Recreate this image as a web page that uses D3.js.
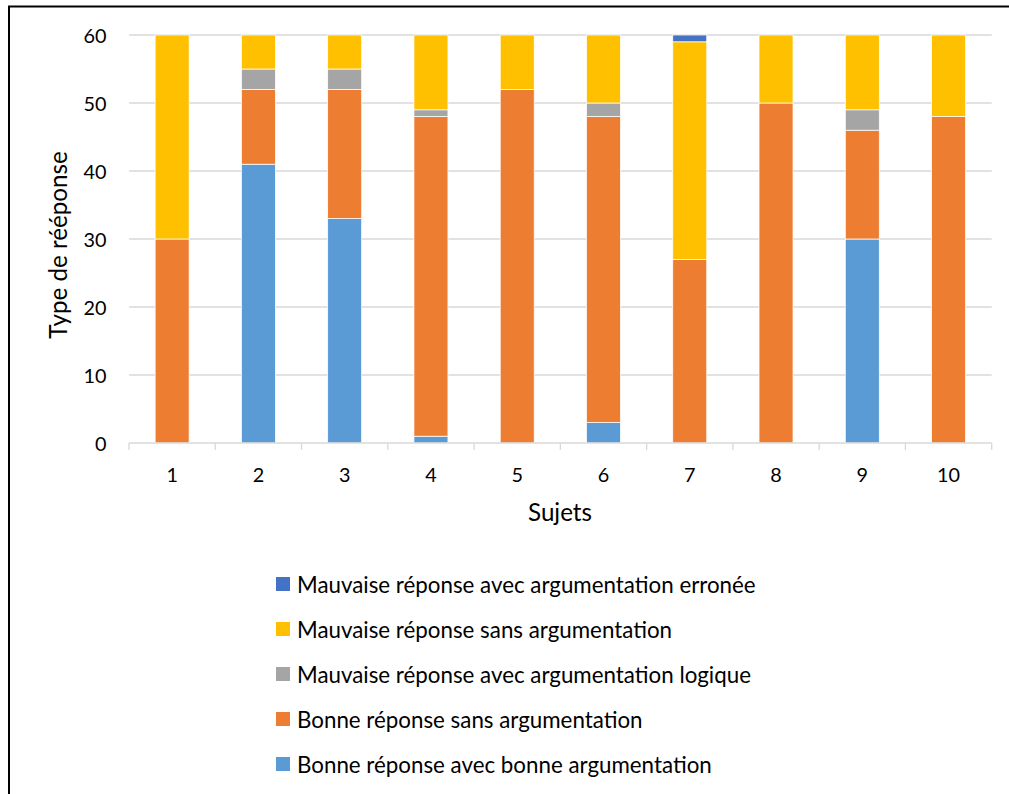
<!DOCTYPE html>
<html>
<head>
<meta charset="utf-8">
<script src="https://cdn.jsdelivr.net/npm/d3@7"></script>
<style>
  html, body { margin: 0; padding: 0; background: #fff; }
  svg { display: block; font-family: Lato, "Open Sans", sans-serif; }
</style>
</head>
<body>
<svg id="chart" width="1009" height="794"></svg>
<script>
// ---- data ----
const subjects = ["1", "2", "3", "4", "5", "6", "7", "8", "9", "10"];
const bonneAvecBonne   = [0, 41, 33, 1, 0, 3, 0, 0, 30, 0];
const bonneSans        = [30, 11, 19, 47, 52, 45, 27, 50, 16, 48];
const mauvaiseLogique  = [0, 3, 3, 1, 0, 2, 0, 0, 3, 0];
const mauvaiseSans     = [30, 5, 5, 11, 8, 10, 32, 10, 11, 12];
const mauvaiseErronee  = [0, 0, 0, 0, 0, 0, 1, 0, 0, 0];
const seriesNames = [
  "Bonne réponse avec bonne argumentation",
  "Bonne réponse sans argumentation",
  "Mauvaise réponse avec argumentation logique",
  "Mauvaise réponse sans argumentation",
  "Mauvaise réponse avec argumentation erronée"
];
const seriesColors = ["#5B9BD5", "#ED7D31", "#A5A5A5", "#FFC000", "#4472C4"];
const yTicks = [0, 10, 20, 30, 40, 50, 60];
const yTitle = "Type de rééponse";
const xTitle = "Sujets";

// ---- build table ----
const seriesValues = [bonneAvecBonne, bonneSans, mauvaiseLogique, mauvaiseSans, mauvaiseErronee];
const keys = seriesNames;
const table = subjects.map((s, i) => {
  const row = { subject: s };
  keys.forEach((k, j) => row[k] = seriesValues[j][i]);
  return row;
});
const stacked = d3.stack().keys(keys)(table);

const svg = d3.select("#chart");

// outer frame
svg.append("rect")
  .attr("x", 9).attr("y", 6.5).attr("width", 1200).attr("height", 1000)
  .attr("fill", "none").attr("stroke", "#000").attr("stroke-width", 2);

const plot = { left: 129, right: 991.7, top: 35, bottom: 443 };
const band = 1 - 34 / ((plot.right - plot.left) / subjects.length);
const x = d3.scaleBand().domain(subjects).range([plot.left, plot.right])
  .paddingInner(band).paddingOuter(band / 2);
const y = d3.scaleLinear().domain([0, 60]).range([plot.bottom, plot.top]);

// fit a font-size so that a sample string has a target width
function fitSize(sample, target) {
  const t = svg.append("text").attr("font-size", 100).text(sample);
  const w = t.node().getComputedTextLength();
  t.remove();
  return 100 * target / w;
}
const tickSize = fitSize("60", 23);
const titleSize = fitSize(xTitle, 64);
const legendSize = fitSize(seriesNames[4], 459);

// gridlines
svg.append("g").selectAll("line").data(yTicks.filter(d => d > 0)).join("line")
  .attr("x1", plot.left).attr("x2", plot.right)
  .attr("y1", d => y(d)).attr("y2", d => y(d))
  .attr("stroke", "#d9d9d9").attr("stroke-width", 1.3);

// y tick labels
svg.append("g").selectAll("text").data(yTicks).join("text")
  .attr("x", 106.5).attr("y", d => y(d))
  .attr("text-anchor", "end").attr("dominant-baseline", "central")
  .attr("font-size", tickSize).attr("fill", "#000")
  .text(d => d);

// bars
svg.append("g").selectAll("g").data(stacked).join("g")
  .attr("fill", (d, i) => seriesColors[i])
  .selectAll("rect").data(d => d).join("rect")
  .attr("x", d => x(d.data.subject))
  .attr("width", x.bandwidth())
  .attr("y", d => y(d[1]))
  .attr("height", d => y(d[0]) - y(d[1]))
  .attr("stroke", "#fff").attr("stroke-width", 0.75)
  .attr("display", d => (d[1] - d[0]) > 0 ? null : "none");

// x axis
const xAxis = d3.axisBottom(x).tickSize(0).tickPadding(0);
const gx = svg.append("g").attr("transform", `translate(0,${plot.bottom})`).call(xAxis);
gx.select(".domain").remove();
gx.selectAll("text").attr("font-size", tickSize).attr("fill", "#000")
  .attr("font-family", "Lato, 'Open Sans', sans-serif")
  .attr("dy", null).attr("y", 31).attr("dominant-baseline", "central");
svg.append("line")
  .attr("x1", plot.left).attr("x2", plot.right)
  .attr("y1", plot.bottom).attr("y2", plot.bottom)
  .attr("stroke", "#d9d9d9").attr("stroke-width", 1.3);
const step = x.step();
svg.append("g").selectAll("line").data(d3.range(subjects.length + 1)).join("line")
  .attr("x1", i => plot.left + i * step).attr("x2", i => plot.left + i * step)
  .attr("y1", plot.bottom).attr("y2", plot.bottom + 7)
  .attr("stroke", "#d9d9d9").attr("stroke-width", 1.3);

// axis titles
svg.append("text")
  .attr("x", 560).attr("y", 521)
  .attr("text-anchor", "middle")
  .attr("font-size", titleSize).attr("fill", "#000")
  .text(xTitle);
svg.append("text")
  .attr("transform", "translate(67,245) rotate(-90)")
  .attr("text-anchor", "middle")
  .attr("font-size", titleSize).attr("fill", "#000")
  .text(yTitle);

// legend (top to bottom: reverse series order)
const legendOrder = d3.range(seriesNames.length).reverse();
const lg = svg.append("g").selectAll("g").data(legendOrder).join("g")
  .attr("transform", (d, i) => `translate(276,${584 + i * 45})`);
lg.append("rect").attr("x", 0).attr("y", -7).attr("width", 14).attr("height", 14)
  .attr("fill", d => seriesColors[d]);
lg.append("text").attr("x", 21).attr("y", 0)
  .attr("dominant-baseline", "central")
  .attr("font-size", legendSize).attr("fill", "#000")
  .text(d => seriesNames[d]);
</script>
</body>
</html>
